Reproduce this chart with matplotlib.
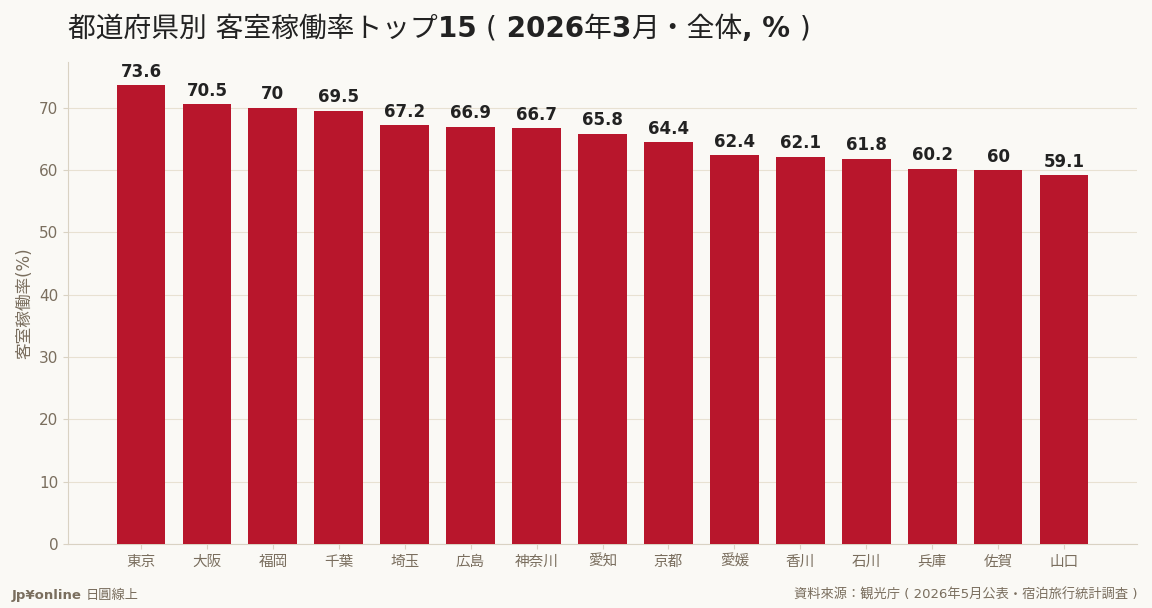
import matplotlib
matplotlib.use("Agg")
import matplotlib.pyplot as plt
import numpy as np

plt.rcParams['font.family'] = ['DejaVu Sans', 'Noto Sans CJK JP']

# データ
prefectures = ['東京', '大阪', '福岡', '千葉', '埼玉', '広島', '神奈川', '愛知',
               '京都', '愛媛', '香川', '石川', '兵庫', '佐賀', '山口']
rates = [73.6, 70.5, 70, 69.5, 67.2, 66.9, 66.7, 65.8,
         64.4, 62.4, 62.1, 61.8, 60.2, 60, 59.1]

bg = '#faf9f5'
bar_color = '#b8162c'
txt_color = '#7a6e5e'
line_color = '#d9d2c3'

fig = plt.figure(figsize=(11.52, 6.08), dpi=100, facecolor=bg)
ax = fig.add_axes([68 / 1152, 64 / 608, (1137 - 68) / 1152, (544 - 62) / 608])
ax.set_facecolor(bg)

x = np.arange(len(prefectures))
ax.bar(x, rates, width=0.74, color=bar_color, zorder=3)

for xi, v in zip(x, rates):
    ax.text(xi, v + 0.7, f'{v:g}', ha='center', va='bottom',
            fontsize=12, fontweight='bold', color='#222222', zorder=4)

ax.set_ylim(0, 77.3)
ax.set_xticks(x)
ax.set_xticklabels(prefectures, fontsize=10.5)
ax.set_yticks(np.arange(0, 80, 10))
ax.tick_params(axis='y', labelsize=11)
ax.tick_params(axis='x', colors=line_color, labelcolor=txt_color)
ax.tick_params(axis='y', colors=line_color, labelcolor=txt_color)
ax.grid(axis='y', color='#e8e1d2', linewidth=0.8, zorder=0)
for s in ['top', 'right']:
    ax.spines[s].set_visible(False)
for s in ['left', 'bottom']:
    ax.spines[s].set_color(line_color)
ax.set_ylabel('客室稼働率(%)', fontsize=12, color=txt_color)

# タイトル（漢字と括弧は標準、数字は太字）
title_parts = [('都道府県別 客室稼働率トップ', 'normal'), ('15 ', 'bold'), ('(', 'normal'),
               (' 2026', 'bold'), ('年', 'normal'), ('3', 'bold'), ('月・全体', 'normal'),
               (', % ', 'bold'), (')', 'normal')]
renderer = fig.canvas.get_renderer()
tx = 68
for s, w in title_parts:
    t = fig.text(tx / 1152, 1 - 29 / 608, s, fontsize=20, fontweight=w,
                 color='#222222', ha='left', va='center')
    tx += t.get_window_extent(renderer).width

fig.text(12 / 1152, 1 - 595 / 608, 'Jp¥online', fontsize=9.5, fontweight='bold',
         color=txt_color, ha='left', va='center')
fig.text(86 / 1152, 1 - 595 / 608, '日圓線上', fontsize=9.5,
         color=txt_color, ha='left', va='center')
fig.text(1137 / 1152, 1 - 595 / 608, '資料來源：観光庁 ( 2026年5月公表・宿泊旅行統計調査 )',
         fontsize=9.5, color=txt_color, ha='right', va='center')

fig.savefig('out.png', dpi=100, facecolor=bg)
